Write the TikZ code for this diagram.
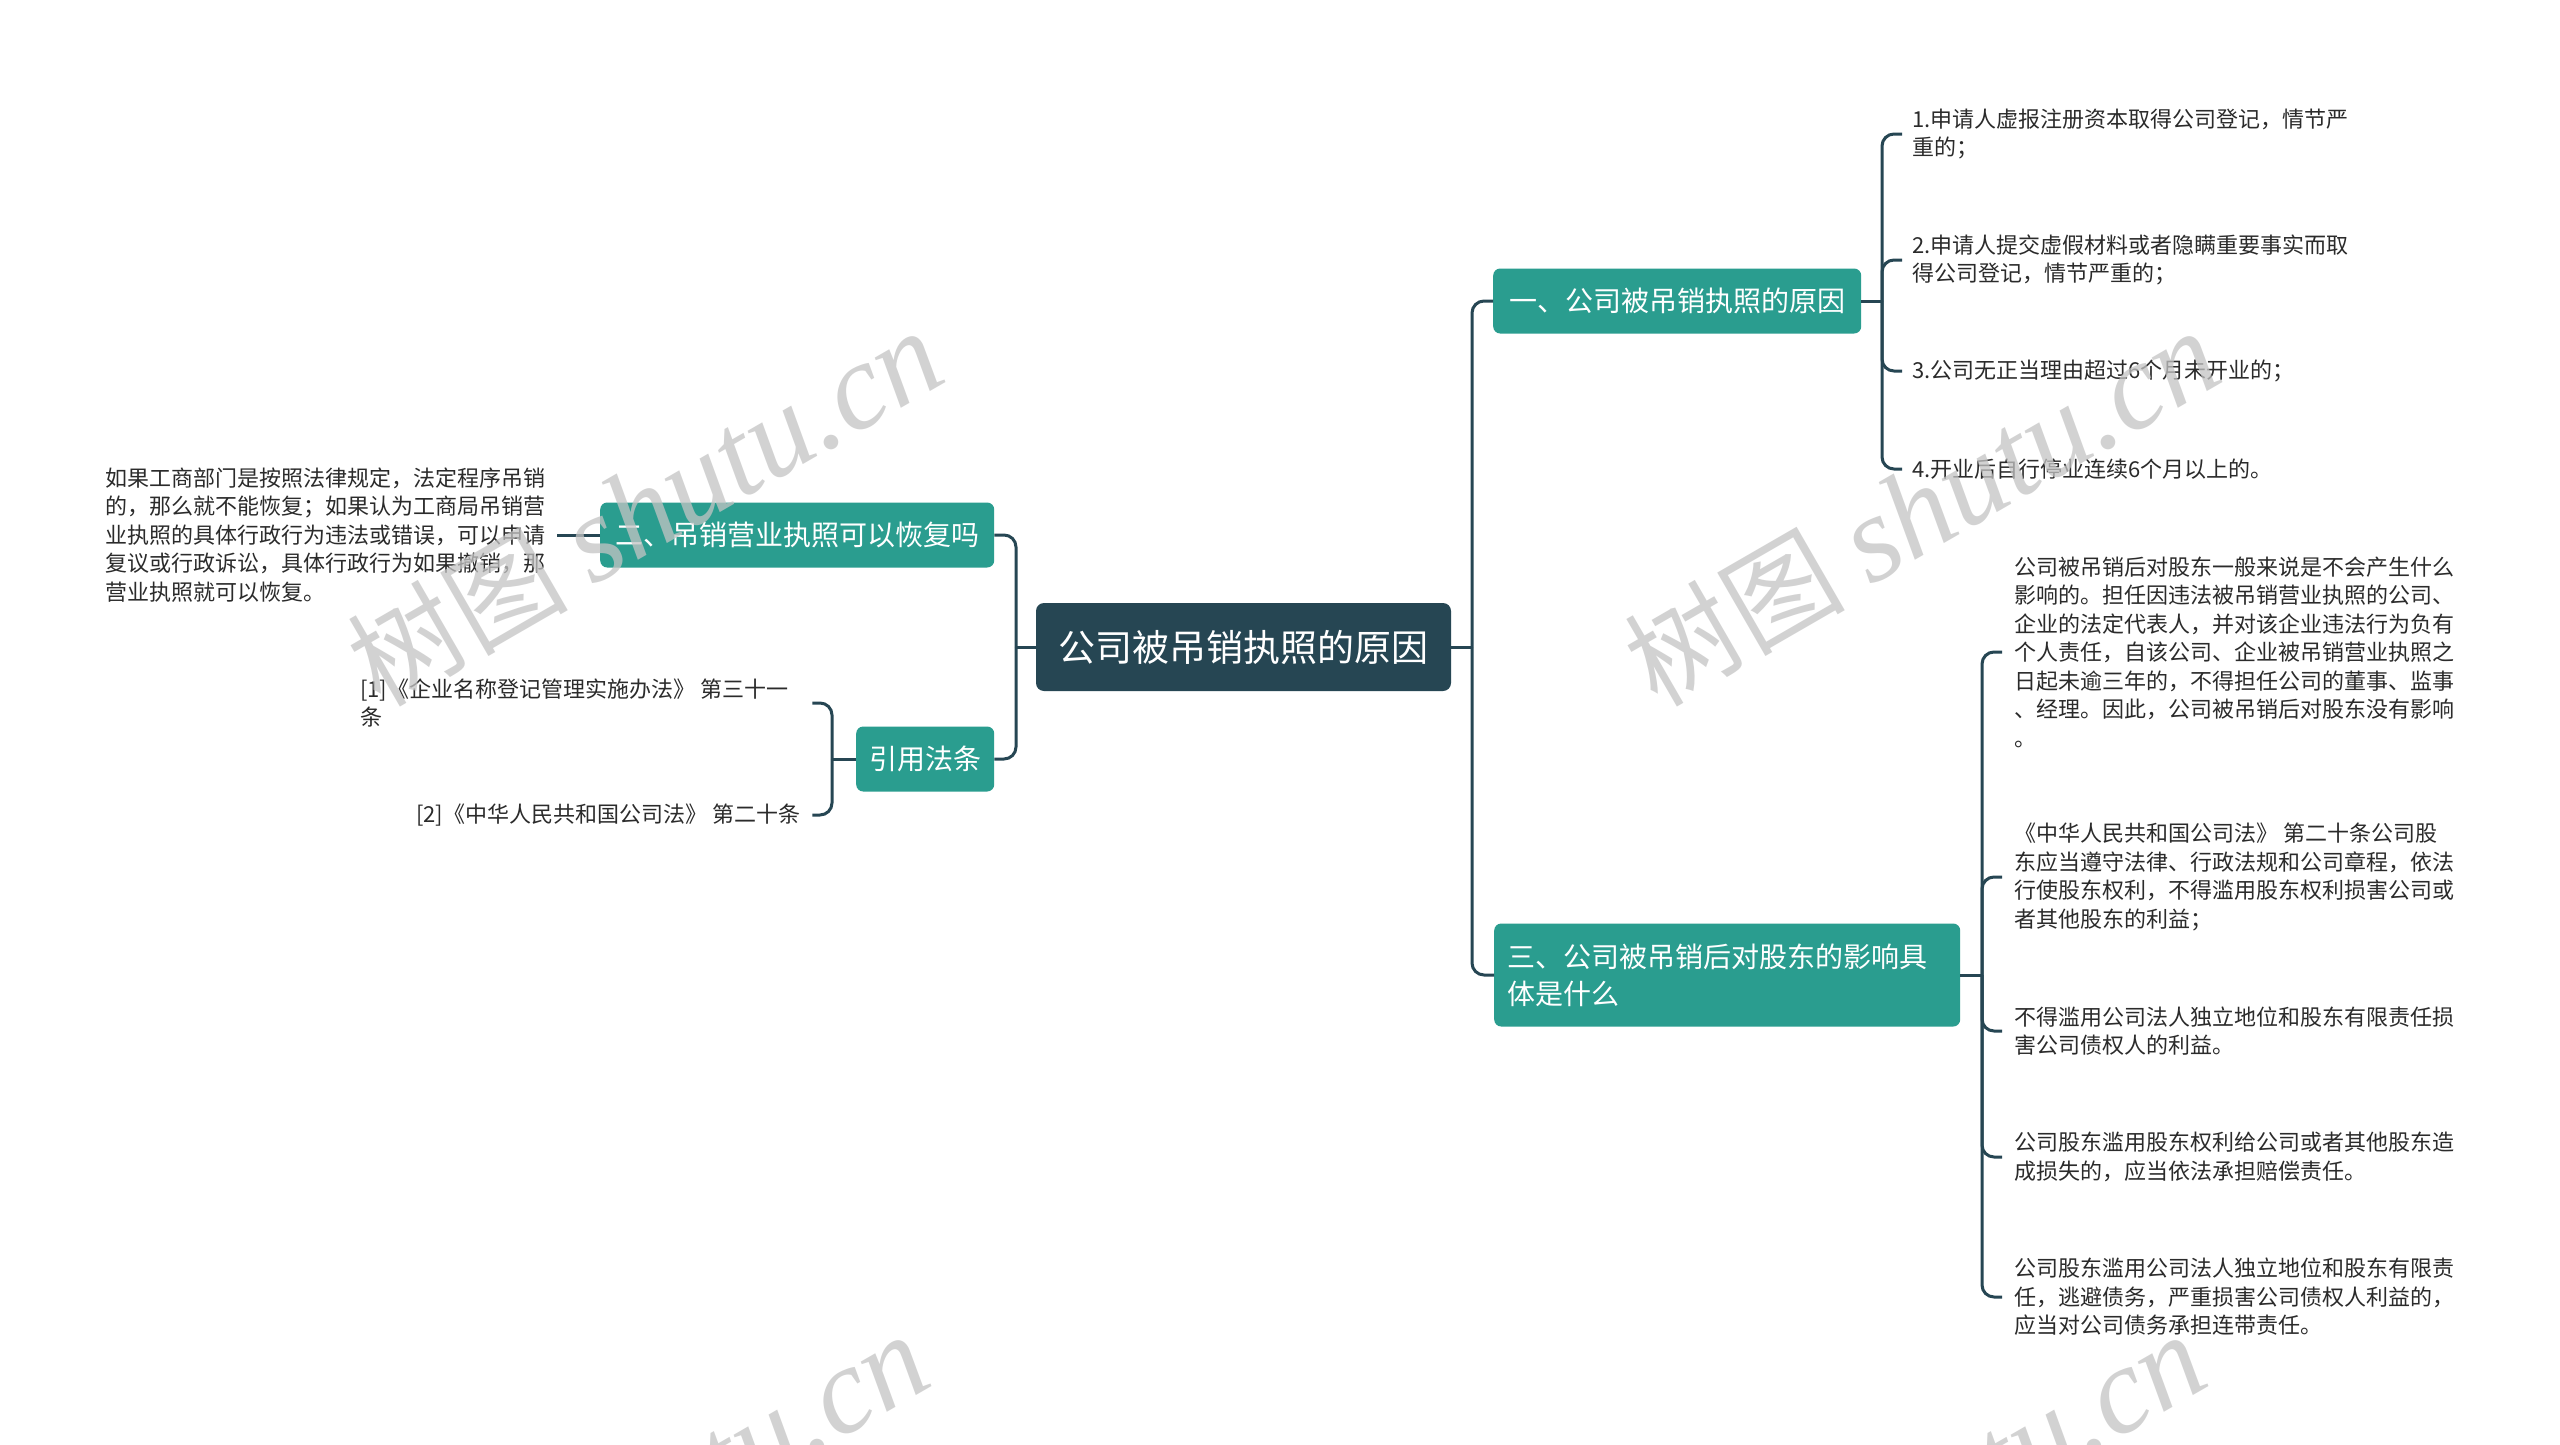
\documentclass[tikz,border=0pt]{standalone}
\usepackage{fontspec}
\newfontfamily\cjk{Noto Sans CJK SC}
\newfontfamily\wmserif{Liberation Serif}
\usetikzlibrary{calc}
\definecolor{darkc}{HTML}{264653}
\definecolor{tealc}{HTML}{2A9D8F}
\definecolor{leaftext}{HTML}{2B2B2B}
\definecolor{wmc}{HTML}{C4C4C4}
\tikzset{
  rootnode/.style={fill=darkc, rounded corners=8pt, text=white, font=\cjk\fontsize{37}{44}\selectfont, minimum width=415pt, minimum height=88pt, inner sep=0pt},
  lonenode/.style={fill=tealc, rounded corners=7pt, text=white, font=\cjk\fontsize{28}{37}\selectfont, inner xsep=13pt, inner ysep=0pt, minimum height=65pt, anchor=west},
  leafnode/.style={text=leaftext, font=\cjk\fontsize{22}{28.5}\selectfont, align=left, inner sep=0pt, anchor=west},
  conn/.style={draw=darkc, line width=3pt, rounded corners=12pt},
  wmark/.style={rotate=30, text=wmc, opacity=0.75, inner sep=0pt}
}
\begin{document}
\begin{tikzpicture}[x=1pt,y=-1pt]
\useasboundingbox (0,0) rectangle (2560,1445);
\fill[white] (0,0) rectangle (2560,1445);
\clip (0,0) rectangle (2560,1445);

% main nodes
\node[rootnode] (root) at (1243.5,647) {公司被吊销执照的原因};
\node[lonenode, minimum width=368pt] (n1) at (1493,301) {一、公司被吊销执照的原因};
\node[lonenode, minimum width=466pt, minimum height=103pt, align=left, text width=440pt] (n3) at (1494,975) {三、公司被吊销后对股东的影响具\\体是什么};
\node[lonenode, minimum width=394pt] (n2) at (600,535) {二、吊销营业执照可以恢复吗};
\node[lonenode, minimum width=138pt] (nref) at (856,759) {引用法条};

% leaves of n1
\node[leafnode] (c11) at (1912,134) {1.申请人虚报注册资本取得公司登记，情节严\\重的；};
\node[leafnode] (c12) at (1912,260) {2.申请人提交虚假材料或者隐瞒重要事实而取\\得公司登记，情节严重的；};
\node[leafnode] (c13) at (1912,371) {3.公司无正当理由超过6个月未开业的；};
\node[leafnode] (c14) at (1912,469) {4.开业后自行停业连续6个月以上的。};

% leaves of n3
\node[leafnode] (c31) at (2014,652) {公司被吊销后对股东一般来说是不会产生什么\\影响的。担任因违法被吊销营业执照的公司、\\企业的法定代表人，并对该企业违法行为负有\\个人责任，自该公司、企业被吊销营业执照之\\日起未逾三年的，不得担任公司的董事、监事\\、经理。因此，公司被吊销后对股东没有影响\\。};
\node[leafnode] (c32) at (2014,877) {《中华人民共和国公司法》 第二十条公司股\\东应当遵守法律、行政法规和公司章程，依法\\行使股东权利，不得滥用股东权利损害公司或\\者其他股东的利益；};
\node[leafnode] (c33) at (2014,1031) {不得滥用公司法人独立地位和股东有限责任损\\害公司债权人的利益。};
\node[leafnode] (c34) at (2014,1157) {公司股东滥用股东权利给公司或者其他股东造\\成损失的，应当依法承担赔偿责任。};
\node[leafnode] (c35) at (2014,1297) {公司股东滥用公司法人独立地位和股东有限责\\任，逃避债务，严重损害公司债权人利益的，\\应当对公司债务承担连带责任。};

% left leaves
\node[leafnode] (c21) at (105,535) {如果工商部门是按照法律规定，法定程序吊销\\的，那么就不能恢复；如果认为工商局吊销营\\业执照的具体行政行为违法或错误，可以申请\\复议或行政诉讼，具体行政行为如果撤销，那\\营业执照就可以恢复。};
\node[leafnode] (r1) at (360,703) {[1]《企业名称登记管理实施办法》 第三十一\\条};
\node[leafnode] (r2) at (416,815) {[2]《中华人民共和国公司法》 第二十条};

% connectors right
\coordinate (bR) at (1472,647);
\draw[conn] (root.east) -- (bR);
\draw[conn] (bR) |- (n1.west);
\draw[conn] (bR) |- (n3.west);

\coordinate (b1) at (1882,301);
\draw[conn] (n1.east) -- (b1);
\foreach \c in {c11,c12,c13,c14} \draw[conn] (b1) |- ([xshift=-10pt]\c.west);

\coordinate (b3) at (1982,975);
\draw[conn] (n3.east) -- (b3);
\foreach \c in {c31,c32,c33,c34,c35} \draw[conn] (b3) |- ([xshift=-12pt]\c.west);

% connectors left
\coordinate (bL) at (1016,647);
\draw[conn] (root.west) -- (bL);
\draw[conn] (bL) |- (n2.east);
\draw[conn] (bL) |- (nref.east);

\draw[conn] (n2.west) -- ([xshift=12pt]c21.east);

\coordinate (bF) at (832,759);
\draw[conn] (nref.west) -- (bF);
\draw[conn] (bF) |- ($(r1.east -| r2.east)+(12,0)$);
\draw[conn] (bF) |- ([xshift=12pt]r2.east);

% watermarks
\foreach \p/\q in {645/508, 1922/508, 631/1512, 1908/1512}
  \node[wmark] at (\p,\q) {{\cjk\fontsize{110}{114}\selectfont 树图}\hspace{25pt}{\wmserif\itshape\fontsize{123}{126}\selectfont shutu.cn}};
\end{tikzpicture}
\end{document}
